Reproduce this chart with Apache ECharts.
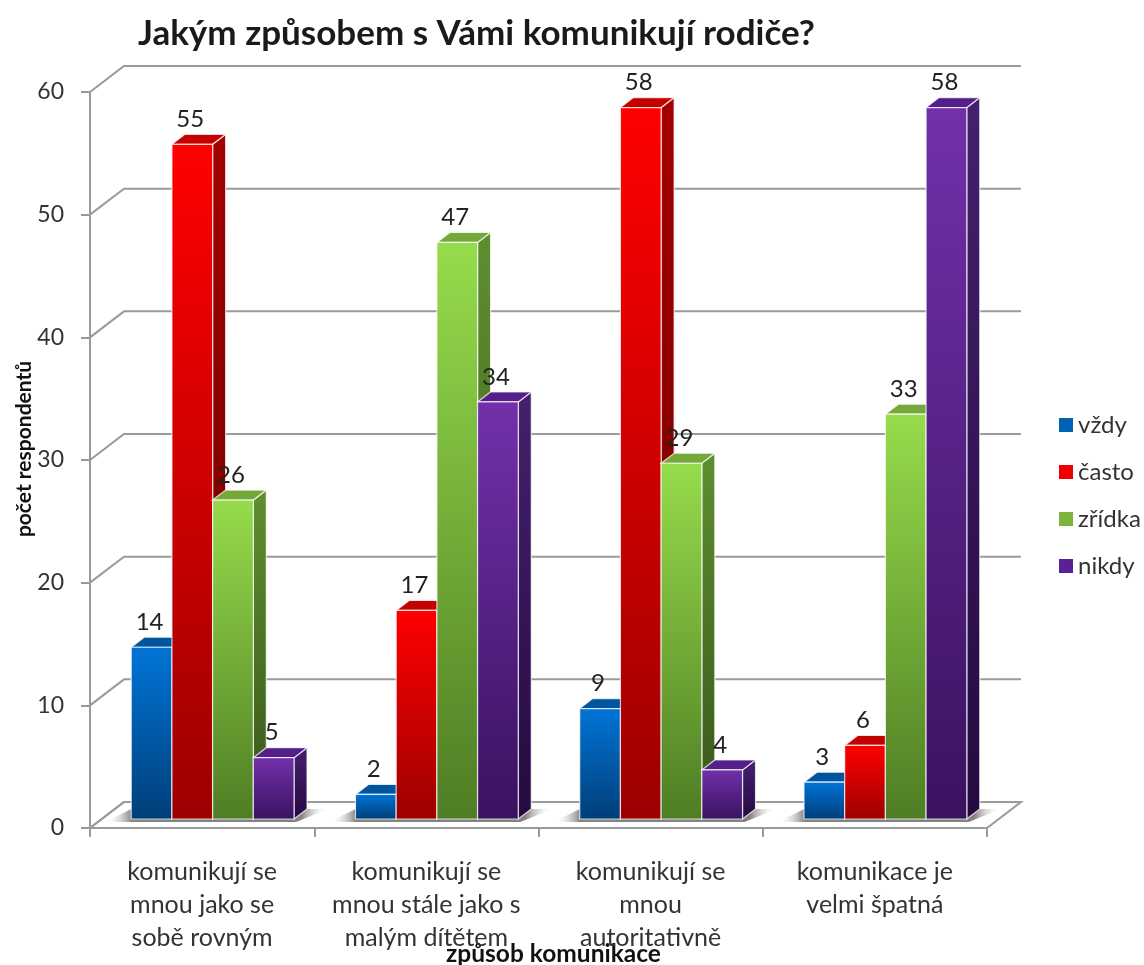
<!DOCTYPE html>
<html>
<head>
<meta charset="utf-8">
<script src="https://cdn.jsdelivr.net/npm/echarts@6/dist/echarts.min.js"></script>
<style>html,body{margin:0;padding:0;background:#fff}#c{width:1144px;height:965px}</style>
</head>
<body>
<div id="c"></div>
<script>
const categories = [
  'komunikují se\nmnou jako se\nsobě rovným',
  'komunikují se\nmnou stále jako s\nmalým dítětem',
  'komunikují se\nmnou\nautoritativně',
  'komunikace je\nvelmi špatná'
];
const seriesNames = ['vždy', 'často', 'zřídka', 'nikdy'];
const vzdy = [14, 2, 9, 3];
const casto = [55, 17, 58, 6];
const zridka = [26, 47, 29, 33];
const nikdy = [5, 34, 4, 58];
const gridValues = [0, 10, 20, 30, 40, 50, 60];

const FONT = 'Lato, "Noto Sans", sans-serif';
const LINE = '#9a9a9a';
const WALL_DX = 34, WALL_DY = -26;
const BAR_DX = 13, BAR_DY = -10;
const SHIFT_X = 10.5, SHIFT_Y = -9;
const BAR_FRAC = 0.1815;

const palettes = [
  {front: ['#0074d6', '#003e78'], side: ['#004a8e', '#00264e'], top: '#00559e', legend: '#0062b4'},
  {front: ['#ff0000', '#9c0000'], side: ['#a40000', '#6c0000'], top: '#c40000', legend: '#ee0000'},
  {front: ['#96dc4c', '#4f7d24'], side: ['#5f8e30', '#38561a'], top: '#74a838', legend: '#7db53c'},
  {front: ['#7230aa', '#3a1260'], side: ['#45206e', '#250a40'], top: '#541f88', legend: '#5c2096'}
];

function vGrad(a, b) {
  return {type: 'linear', x: 0, y: 0, x2: 0, y2: 1, colorStops: [{offset: 0, color: a}, {offset: 1, color: b}]};
}

function renderBar(seriesIdx) {
  return function (params, api) {
    const cat = api.value(0), val = api.value(1);
    const p = api.coord([cat, val]);
    const base = api.coord([cat, 0]);
    const band = api.size([1, 0])[0];
    const w = band * BAR_FRAC;
    const x = p[0] + SHIFT_X + (seriesIdx - 2) * w;
    const yTop = p[1] + SHIFT_Y, yBot = base[1] + SHIFT_Y;
    const pal = palettes[seriesIdx];
    const edge = {stroke: 'rgba(255,255,255,0.75)', lineWidth: 1.2};
    return {
      type: 'group',
      children: [
        {type: 'polygon', shape: {points: [[x + w, yTop], [x + w + BAR_DX, yTop + BAR_DY], [x + w + BAR_DX, yBot + BAR_DY], [x + w, yBot]]},
          style: Object.assign({fill: vGrad(pal.side[0], pal.side[1])}, edge)},
        {type: 'polygon', shape: {points: [[x, yTop], [x + BAR_DX, yTop + BAR_DY], [x + w + BAR_DX, yTop + BAR_DY], [x + w, yTop]]},
          style: Object.assign({fill: pal.top}, edge)},
        {type: 'rect', shape: {x: x, y: yTop, width: w, height: yBot - yTop},
          style: Object.assign({fill: vGrad(pal.front[0], pal.front[1])}, edge)},
        {type: 'text', z2: 100, style: {text: String(val), x: x + w / 2 - 2, y: yTop - 25, align: 'center', verticalAlign: 'middle',
          fill: '#222', font: '24px ' + FONT}}
      ]
    };
  };
}

function renderFloor(params, api) {
  const cs = params.coordSys;
  const y = api.coord([0, 0])[1];
  const l = cs.x, r = cs.x + cs.width;
  return {
    type: 'polygon',
    shape: {points: [[l, y], [l + WALL_DX, y + WALL_DY], [r + WALL_DX, y + WALL_DY], [r, y]]},
    style: {fill: '#fff', stroke: LINE, lineWidth: 2}
  };
}

function renderWall(params, api) {
  const cs = params.coordSys;
  const y = api.coord([0, api.value(0)])[1];
  const l = cs.x, r = cs.x + cs.width;
  return {
    type: 'polyline',
    shape: {points: [[l, y], [l + WALL_DX, y + WALL_DY], [r + WALL_DX, y + WALL_DY]]},
    style: {fill: 'none', stroke: LINE, lineWidth: 2}
  };
}

function renderShadow(params, api) {
  const c = api.coord([api.value(0), 0]);
  const band = api.size([1, 0])[0];
  const half = band * BAR_FRAC * 2;
  const x0 = c[0] + SHIFT_X - half, x1 = c[0] + SHIFT_X + half;
  const yb = c[1] - 6, yt = c[1] - 19;
  return {
    type: 'polygon',
    shape: {points: [[x0 - 26, yb], [x0, yt], [x1 + 34, yt], [x1 + 2, yb]]},
    style: {fill: {type: 'linear', x: 0, y: 0, x2: 1, y2: 0, colorStops: [
      {offset: 0, color: 'rgba(255,255,255,0)'},
      {offset: 0.12, color: 'rgba(130,130,130,1)'},
      {offset: 0.88, color: 'rgba(130,130,130,1)'},
      {offset: 1, color: 'rgba(255,255,255,0)'}
    ]}}
  };
}

const values = [vzdy, casto, zridka, nikdy];
const barSeries = values.map((arr, i) => ({
  name: seriesNames[i],
  type: 'custom',
  coordinateSystem: 'cartesian2d',
  renderItem: renderBar(i),
  itemStyle: {color: palettes[i].legend},
  encode: {x: 0, y: 1},
  data: arr.map((v, k) => [k, v]),
  z: 5
}));

const chart = echarts.init(document.getElementById('c'), null, {renderer: 'canvas'});
chart.setOption({
  animation: false,
  backgroundColor: '#fff',
  title: {
    text: 'Jakým způsobem s Vámi komunikují rodiče?',
    left: 133, top: 11,
    textStyle: {fontFamily: FONT, fontSize: 35, fontWeight: 'bold', color: '#1a1a1a'}
  },
  legend: {
    orient: 'vertical', left: 1054, top: 407,
    icon: 'rect', itemWidth: 14, itemHeight: 14, itemGap: 21,
    itemStyle: {borderWidth: 0},
    data: seriesNames,
    textStyle: {fontFamily: FONT, fontSize: 24, color: '#333', height: 26, lineHeight: 26}
  },
  grid: {left: 90, top: 92, width: 897, height: 736, containLabel: false, outerBoundsMode: 'none'},
  xAxis: {
    type: 'category', data: categories,
    axisLine: {show: true, lineStyle: {color: LINE, width: 2}},
    axisTick: {show: true, alignWithLabel: false, length: 9, lineStyle: {color: LINE, width: 2}},
    axisLabel: {fontFamily: FONT, fontSize: 25, color: '#333', lineHeight: 33, margin: 27, interval: 0, hideOverlap: false},
    name: 'způsob komunikace', nameLocation: 'middle', nameGap: 114, nameMoveOverlap: false,
    nameTextStyle: {fontFamily: FONT, fontSize: 24.5, fontWeight: 'bold', color: '#111', padding: [0, 0, 0, 30]}
  },
  yAxis: {
    type: 'value', min: 0, max: 60, interval: 10,
    axisLine: {show: true, lineStyle: {color: LINE, width: 2}},
    axisTick: {show: true, length: 9, lineStyle: {color: LINE, width: 2}},
    splitLine: {show: false},
    axisLabel: {fontFamily: FONT, fontSize: 23, color: '#333', margin: 26},
    name: 'počet respondentů', nameLocation: 'middle', nameGap: 55, nameMoveOverlap: false, nameRotate: 90,
    nameTextStyle: {fontFamily: FONT, fontSize: 21, fontWeight: 'bold', color: '#111', padding: [0, 0, 0, 22]}
  },
  series: [
    {type: 'custom', coordinateSystem: 'cartesian2d', renderItem: renderFloor, data: [[0, 0]], silent: true, z: 1},
    {type: 'custom', coordinateSystem: 'cartesian2d', renderItem: renderWall, data: gridValues.map(v => [v]), encode: {}, silent: true, z: 1},
    {type: 'custom', coordinateSystem: 'cartesian2d', renderItem: renderShadow, data: categories.map((c, k) => [k, 0]), silent: true, z: 2}
  ].concat(barSeries)
});
</script>
</body>
</html>
